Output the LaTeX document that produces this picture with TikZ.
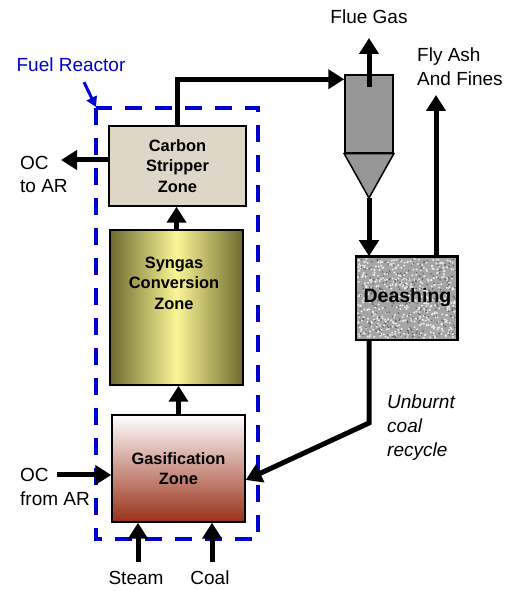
\documentclass[tikz,border=0pt]{standalone}
\usepackage{fontspec}
\setmainfont{Liberation Sans}
\usetikzlibrary{arrows.meta}
\definecolor{frblue}{RGB}{0,0,210}
\definecolor{stripper}{RGB}{222,214,199}
\definecolor{syndark}{RGB}{110,106,46}
\definecolor{synlight}{RGB}{250,246,150}
\definecolor{gasred}{RGB}{152,48,24}
\definecolor{cyclgray}{RGB}{150,150,150}
\definecolor{ashgray}{RGB}{165,165,165}

\begin{document}
\begin{tikzpicture}[x=1pt,y=1pt,
    zone/.style={draw,line width=1.5pt,inner sep=0pt},
    zonetext/.style={font=\fontsize{16.4}{20.5}\selectfont\bfseries,align=center},
    lbl/.style={font=\fontsize{19}{23.5}\selectfont,inner sep=0pt},
    flow/.style={line width=5pt,-{Triangle[length=16pt,width=19pt]}}]
\useasboundingbox (0,0) rectangle (510,591);

\draw[frblue,line width=4pt,dash pattern=on 17pt off 13pt] (96,483) rectangle (258,52);

\node[zone,zonetext,fill=stripper,minimum width=137pt,minimum height=80pt] (cs) at (177.5,425) {Carbon\\Stripper\\Zone};
\node[zone,left color=syndark,right color=syndark,middle color=synlight,minimum width=133pt,minimum height=155pt] (sg) at (176.5,283.5) {};
\node[zonetext] (sgtext) at (174,308) {Syngas\\Conversion\\Zone};
\node[zone,zonetext,top color=white,bottom color=gasred,minimum width=133pt,minimum height=107pt] (gz) at (178.5,122.5) {Gasification\\Zone};

\node[zone,fill=cyclgray,minimum width=48pt,minimum height=78pt] (cy) at (369,477) {};
\coordinate (tip) at (369,393);
\draw[line width=1.5pt,fill=cyclgray] (cy.south west) -- (cy.south east) -- (tip) -- cycle;

\node[zone,fill=ashgray,minimum width=101pt,minimum height=83pt] (da) at (406.5,292.5) {};
\pgfmathsetseed{5}
\foreach \k in {1,...,500} {\fill[white!85!gray] ({358+rnd*97},{253+rnd*79}) circle (1.1pt);}
\foreach \k in {1,...,300} {\fill[black!60] ({358+rnd*97},{253+rnd*79}) circle (0.9pt);}
\draw[line width=1.5pt] (da.south west) rectangle (da.north east);
\node[font=\fontsize{19.5}{23}\selectfont\bfseries,inner sep=0pt] (datext) at (407.5,293) {Deashing};

\node[lbl,text=frblue] (fr) at (71,526) {Fuel Reactor};
\node[lbl] (fg) at (369,574) {Flue Gas};
\node[lbl,align=left,anchor=west] (fa) at (417,524.5) {Fly Ash\\And Fines};
\node[lbl,align=left,anchor=west] (octo) at (20,416.5) {OC\\to AR};
\node[lbl,align=left,anchor=west] (ocfrom) at (20,104) {OC\\from AR};
\node[lbl,font=\fontsize{19}{24}\selectfont\itshape,align=left,anchor=west] (ub) at (387,163) {Unburnt\\coal\\recycle};
\node[lbl] (st) at (136,13) {Steam};
\node[lbl] (cl) at (210,13) {Coal};

\coordinate (frtip) at (96,484);
\coordinate (fgout) at (369,553);
\coordinate (faout) at (436,496);
\coordinate (bend) at (369,168);
\coordinate (octip) at (61,431);
\coordinate (ocin) at (57,116);
\coordinate (stin) at (138,29);
\coordinate (clin) at (212,29);

\draw[frblue,line width=3pt,-{Triangle[length=10pt,width=11pt]}] ([xshift=13pt,yshift=-10pt]fr.south) -- (frtip);
\draw[flow] (cs.north) |- ([yshift=-5pt]cy.north west);
\draw[flow] ([yshift=-13pt]cy.north) -- (fgout);
\draw[flow] (tip) -- (tip|-da.north);
\draw[flow] (faout|-da.north) -- (faout);
\draw[flow] (tip|-da.south) -- (bend) -- ([yshift=-11.5pt]gz.east);
\draw[flow] ([yshift=6pt]cs.west) -- (octip);
\draw[flow] (ocin) -- (ocin-|gz.west);
\draw[flow] (stin) -- (stin|-gz.south);
\draw[flow] (clin) -- (clin|-gz.south);
\draw[flow] (gz.north) -- (gz.north|-sg.south);
\draw[flow] (sg.north) -- (sg.north|-cs.south);
\end{tikzpicture}
\end{document}
